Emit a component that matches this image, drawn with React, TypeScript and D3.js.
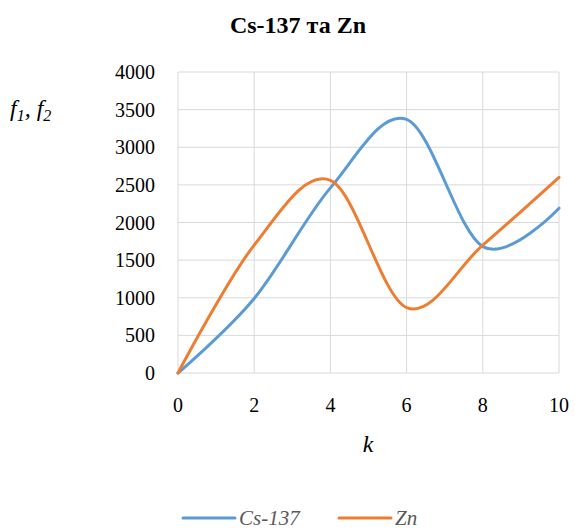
import React, { useRef, useEffect } from 'react';
import * as d3 from 'd3';

const kValues = [0, 2, 4, 6, 8, 10];
const cs137 = [0, 990, 2460, 3370, 1680, 2190];
const zn = [0, 1700, 2560, 870, 1700, 2600];
const xTicks = [0, 2, 4, 6, 8, 10];
const yTicks = [0, 500, 1000, 1500, 2000, 2500, 3000, 3500, 4000];

const series = [
  { name: 'Cs-137', values: cs137, color: '#5b9bd5' },
  { name: 'Zn', values: zn, color: '#ed7d31' },
];

const App = () => {
  const svgRef = useRef<SVGSVGElement>(null);

  useEffect(() => {
    const svg = d3.select(svgRef.current);
    svg.selectAll('*').remove();
    const font = "'Tinos', 'Liberation Serif', 'Times New Roman', Times, 'DejaVu Serif', serif";

    const x = d3.scaleLinear().domain([0, 10]).range([178, 559]);
    const y = d3.scaleLinear().domain([0, 4000]).range([373, 72]);

    // grid
    svg.append('g')
      .selectAll('line')
      .data(yTicks)
      .join('line')
      .attr('x1', x(0)).attr('x2', x(10))
      .attr('y1', d => y(d)).attr('y2', d => y(d))
      .attr('stroke', '#d9d9d9').attr('stroke-width', 1);
    svg.append('g')
      .selectAll('line')
      .data(xTicks)
      .join('line')
      .attr('x1', d => x(d)).attr('x2', d => x(d))
      .attr('y1', y(0)).attr('y2', y(4000))
      .attr('stroke', '#d9d9d9').attr('stroke-width', 1);

    // tick labels
    svg.append('g')
      .selectAll('text')
      .data(yTicks)
      .join('text')
      .attr('x', 155)
      .attr('y', d => y(d) + 7)
      .attr('text-anchor', 'end')
      .style('font-family', font)
      .attr('font-size', 20)
      .text(d => d);
    svg.append('g')
      .selectAll('text')
      .data(xTicks)
      .join('text')
      .attr('x', d => x(d))
      .attr('y', 412)
      .attr('text-anchor', 'middle')
      .style('font-family', font)
      .attr('font-size', 20)
      .text(d => d);

    const line = d3.line<number>()
      .x((d, i) => x(kValues[i]))
      .y(d => y(d))
      .curve(d3.curveCardinal.tension(0));

    series.forEach(s => {
      svg.append('path')
        .attr('d', line(s.values))
        .attr('fill', 'none')
        .attr('stroke', s.color)
        .attr('stroke-width', 3)
        .attr('stroke-linecap', 'round');
    });

    // title
    svg.append('text')
      .attr('x', 298).attr('y', 33)
      .attr('text-anchor', 'middle')
      .style('font-family', font)
      .attr('font-size', 24)
      .attr('font-weight', 'bold')
      .text('Cs-137 та Zn');

    // axis titles
    const yt = svg.append('text')
      .attr('x', 10).attr('y', 116)
      .style('font-family', font)
      .attr('font-size', 24)
      .attr('font-style', 'italic');
    yt.append('tspan').text('f');
    yt.append('tspan').attr('dy', 5).attr('font-size', 16).text('1');
    yt.append('tspan').attr('dy', -5).text(', f');
    yt.append('tspan').attr('dy', 5).attr('font-size', 16).text('2');

    svg.append('text')
      .attr('x', 368).attr('y', 452)
      .attr('text-anchor', 'middle')
      .style('font-family', font)
      .attr('font-size', 24)
      .attr('font-style', 'italic')
      .text('k');

    // legend
    const legendX = [183, 339];
    series.forEach((s, i) => {
      svg.append('line')
        .attr('x1', legendX[i]).attr('x2', legendX[i] + 52)
        .attr('y1', 518).attr('y2', 518)
        .attr('stroke', s.color)
        .attr('stroke-width', 3)
        .attr('stroke-linecap', 'round');
      svg.append('text')
        .attr('x', legendX[i] + 56).attr('y', 525)
        .style('font-family', font)
        .attr('font-size', 21)
        .attr('font-style', 'italic')
        .attr('fill', '#595959')
        .text(s.name);
    });
  }, []);

  return (
    <svg ref={svgRef} width={575} height={531}
      style={{ position: 'absolute', left: 0, top: 0, background: '#fff' }} />
  );
};

export default App;
